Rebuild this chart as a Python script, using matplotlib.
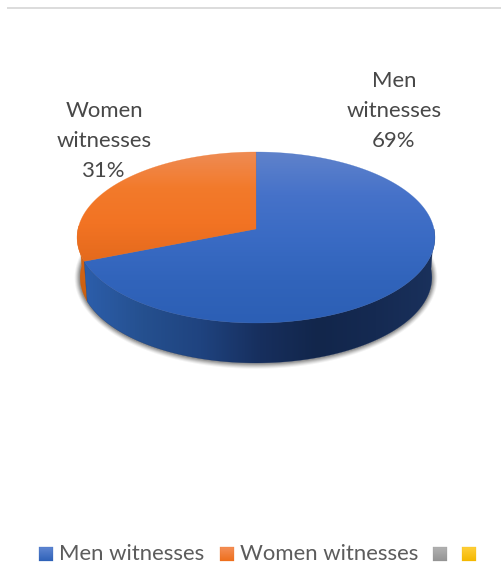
import numpy as np
import matplotlib
matplotlib.use("Agg")
import matplotlib.pyplot as plt
from matplotlib.colors import LinearSegmentedColormap as LSC
from matplotlib.patches import Polygon, Rectangle

# Chart data
categories = ["Men witnesses", "Women witnesses", "", ""]
shares = [69, 31, 0, 0]
label_lines = [["Men", "witnesses"], ["Women", "witnesses"]]

plt.rcParams["font.family"] = ["Lato", "DejaVu Sans"]
FONT_PT = 15.9

fig = plt.figure(figsize=(5.02, 5.88), dpi=100, facecolor="white")
ax = fig.add_axes([0, 0, 1, 1])

# Projection of the tilted disc onto the canvas
CX, CY, RX, KY, PERSP, DEPTH = 256.0, 229.0, 178.0, 84.65, 0.0994, 40.0
FOOT_SHRINK = 175.0 / 178.0


def rim(theta_deg, drop=0.0, shrink=1.0):
    t = np.radians(theta_deg)
    u, v = np.sin(t), np.cos(t)
    d = 1 + PERSP * v
    return np.column_stack([CX + shrink * RX * u / d, CY - KY * v / d + drop])


def gradient_fill(poly_xy, stops, vertical=True, zorder=2):
    """Paint a clipped linear gradient inside a polygon."""
    x0, y0 = poly_xy.min(axis=0)
    x1, y1 = poly_xy.max(axis=0)
    cmap = LSC.from_list("g", stops)
    ramp = np.linspace(0, 1, 256)
    data = ramp[:, None] if vertical else ramp[None, :]
    im = ax.imshow(data, cmap=cmap, extent=(x0, x1, y1, y0), origin="upper",
                   aspect="auto", interpolation="bilinear", zorder=zorder, vmin=0, vmax=1)
    clip = Polygon(poly_xy, closed=True, transform=ax.transData, fc="none", ec="none")
    ax.add_patch(clip)
    im.set_clip_path(clip)
    ax.add_patch(Polygon(poly_xy, closed=True, fc="none", ec=stops[len(stops) // 2],
                         lw=0.3, alpha=0.6, zorder=zorder))


# Slice boundaries, clockwise from twelve o'clock
total = sum(shares)
men_end = 360.0 * shares[0] / total
apex = np.array([[CX, CY]])

# Soft shadow under the disc body
full = rim(np.linspace(0, 360, 361), DEPTH, FOOT_SHRINK)
centre = np.array([CX, CY + DEPTH + 5])
for grow, alpha in zip([5.5, 4.5, 3.5, 2.5, 1.5], [0.06, 0.09, 0.12, 0.15, 0.2]):
    scale = np.array([1 + grow / RX, 1 + grow / KY])
    ax.add_patch(Polygon(centre + (full - centre) * scale, closed=True, fc="#303030",
                         ec="none", alpha=alpha, zorder=1))

# Side wall of the disc
men_arc = np.linspace(90, men_end, 200)
wall_men = np.vstack([rim(men_arc), rim(men_arc[::-1], DEPTH, FOOT_SHRINK)])
gradient_fill(wall_men,
              ["#2c5eab", "#25508f", "#1f437f", "#172f5e", "#12264b", "#152a52", "#1a315c"],
              vertical=False, zorder=2)

women_arc = np.linspace(men_end, 272, 60)
wall_women = np.vstack([rim(women_arc), rim(women_arc[::-1], DEPTH, FOOT_SHRINK)])
gradient_fill(wall_women, ["#e0681b", "#c9600f"], vertical=True, zorder=1.5)

# Top face slices
men_face = np.vstack([apex, rim(np.linspace(0, men_end, 300))])
women_face = np.vstack([apex, rim(np.linspace(men_end, 360, 150))])
gradient_fill(men_face, ["#5f82cb", "#4672c9", "#3a6bc4", "#3164bb", "#2c5fb5"], zorder=4)
gradient_fill(women_face, ["#ee8c55", "#f37a2b", "#f27323", "#e46a1d"], zorder=4)

# Percentage labels
label_anchor = [(394, 111), (104, 141)]
for lines, pct, (lx, ly) in zip(label_lines, shares, label_anchor):
    ax.text(lx, ly, "\n".join(lines + [f"{pct}%"]), ha="center", va="center",
            fontsize=FONT_PT, color="#484848", linespacing=1.63, zorder=6)

# Legend row
swatch_x = [39, 220, 433, 462]
text_x = [59, 240]
swatch_stops = [["#5f86d2", "#2f62b8"], ["#f48f58", "#ee6f1c"],
                ["#b2b2b2", "#949494"], ["#ffcf3a", "#f4b800"]]
for cat, sx, stops in zip(categories, swatch_x, swatch_stops):
    box = np.array([[sx, 547], [sx + 14.5, 547], [sx + 14.5, 561], [sx, 561]])
    gradient_fill(box, stops, zorder=5)
for cat, tx in zip(categories[:2], text_x):
    ax.text(tx, 554, cat, ha="left", va="center", fontsize=FONT_PT, color="#5c5c5c", zorder=6)

# Thin rule along the top
ax.add_patch(Rectangle((7, 7), 495, 1.5, fc="#dcdcdc", ec="none", zorder=1))

ax.set_xlim(0, 502)
ax.set_ylim(588, 0)
ax.axis("off")
fig.savefig("out.png", dpi=100, facecolor="white")
